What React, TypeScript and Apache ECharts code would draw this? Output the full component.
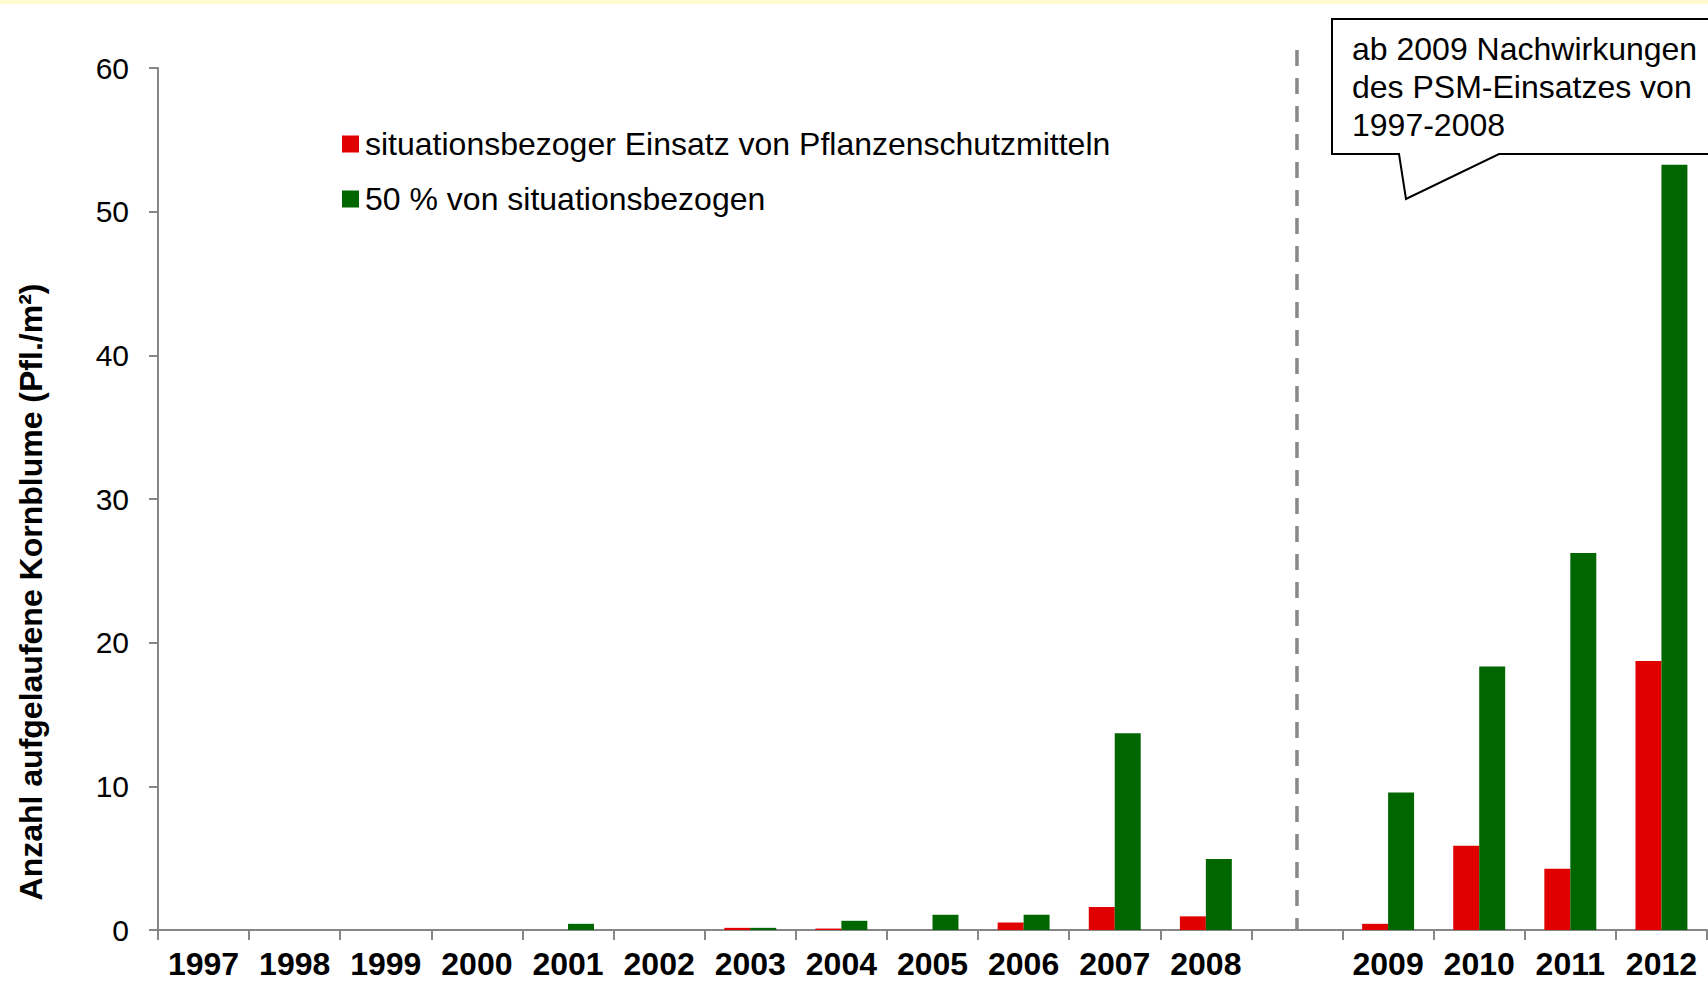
import React, { useEffect, useRef } from "react";
import * as echarts from "echarts";

const categories = ["1997", "1998", "1999", "2000", "2001", "2002", "2003", "2004", "2005", "2006", "2007", "2008", "", "2009", "2010", "2011", "2012"];
const redValues = [0, 0, 0, 0, 0, 0, 0.15, 0.1, 0, 0.52, 1.6, 0.95, null, 0.43, 5.87, 4.27, 18.73];
const greenValues = [0, 0, 0, 0, 0.43, 0, 0.15, 0.64, 1.06, 1.06, 13.69, 4.94, null, 9.57, 18.34, 26.25, 53.26];
const seriesNames = ["situationsbezoger Einsatz von Pflanzenschutzmitteln", "50 % von situationsbezogen"];
const yTicks = { min: 0, max: 60, interval: 10 };
const yAxisTitle = "Anzahl aufgelaufene Kornblume (Pfl./m²)";
const calloutLines = ["ab 2009 Nachwirkungen", "des PSM-Einsatzes von", "1997-2008"];
const separatorIndex = 12;

const FONT = "'Liberation Sans', Arial, sans-serif";
const AXIS_GRAY = "#868686";

export default function App() {
  const ref = useRef<HTMLDivElement>(null);

  useEffect(() => {
    if (!ref.current) return;
    const chart = echarts.init(ref.current, null, { renderer: "svg" });
    const option: any = {
      animation: false,
      backgroundColor: "#ffffff",
      grid: { left: 158, right: 1, top: 68, bottom: 54, containLabel: false },
      legend: {
        orient: "vertical",
        left: 342,
        top: 128,
        padding: 0,
        itemGap: 23,
        itemWidth: 17,
        itemHeight: 17,
        icon: "rect",
        textStyle: { fontSize: 32, fontFamily: FONT, color: "#000", padding: [0, 0, 0, 1] },
        data: seriesNames,
      },
      xAxis: {
        type: "category",
        data: categories,
        boundaryGap: true,
        axisLine: { lineStyle: { color: AXIS_GRAY, width: 2 } },
        axisTick: { show: true, length: 10, lineStyle: { color: AXIS_GRAY, width: 2 }, interval: 0 },
        axisLabel: {
          interval: 0,
          margin: 20,
          lineHeight: 28,
          fontSize: 32,
          fontWeight: "bold",
          fontFamily: FONT,
          color: "#000",
        },
        splitLine: { show: false },
      },
      yAxis: {
        type: "value",
        min: yTicks.min,
        max: yTicks.max,
        interval: yTicks.interval,
        axisLine: { show: true, lineStyle: { color: AXIS_GRAY, width: 2 } },
        axisTick: { show: true, length: 9, lineStyle: { color: AXIS_GRAY, width: 2 } },
        axisLabel: { margin: 29, fontSize: 30, fontFamily: FONT, color: "#000" },
        splitLine: { show: false },
      },
      series: [
        {
          name: seriesNames[0],
          type: "bar",
          data: redValues,
          barGap: "0%",
          barCategoryGap: "43%",
          itemStyle: { color: "#E10000" },
        },
        {
          name: seriesNames[1],
          type: "bar",
          data: greenValues,
          barGap: "0%",
          barCategoryGap: "43%",
          itemStyle: { color: "#006600" },
        },
      ],
    };
    chart.setOption(option);

    const sepX = chart.convertToPixel({ xAxisIndex: 0 }, separatorIndex) as number;
    const zeroY = chart.convertToPixel({ yAxisIndex: 0 }, 0) as number;

    chart.setOption({
      graphic: [
        {
          type: "rect",
          left: 0,
          top: 0,
          shape: { width: 1708, height: 4 },
          style: {
            fill: new echarts.graphic.LinearGradient(0, 0, 1, 0, [
              { offset: 0, color: "#FFFCD2" },
              { offset: 1, color: "#FFF9D0" },
            ]),
          },
          silent: true,
        },
        {
          type: "line",
          shape: { x1: sepX, y1: 50, x2: sepX, y2: zeroY - 1 },
          style: { stroke: "#888888", lineWidth: 3.5, lineDash: [16, 12] },
          silent: true,
        },
        {
          type: "polygon",
          shape: {
            points: [
              [1332, 19],
              [1712, 19],
              [1712, 154],
              [1499, 154],
              [1406, 199],
              [1399, 154],
              [1332, 154],
            ],
          },
          style: { fill: "#ffffff", stroke: "#000000", lineWidth: 2 },
          silent: true,
        },
        {
          type: "text",
          x: 1352,
          y: 30,
          style: {
            text: calloutLines.join("\n"),
            font: `32px ${FONT}`,
            fill: "#000",
            lineHeight: 38,
            textAlign: "left",
            textVerticalAlign: "top",
          },
          silent: true,
        },
        {
          type: "text",
          x: 31,
          y: 592,
          rotation: Math.PI / 2,
          style: {
            text: yAxisTitle,
            font: `bold 32px ${FONT}`,
            fill: "#000",
            textAlign: "center",
            textVerticalAlign: "middle",
          },
          silent: true,
        },
      ],
    });

    return () => chart.dispose();
  }, []);

  return (
    <div
      ref={ref}
      style={{ position: "fixed", left: 0, top: 0, width: 1708, height: 984, background: "#fff" }}
    />
  );
}
